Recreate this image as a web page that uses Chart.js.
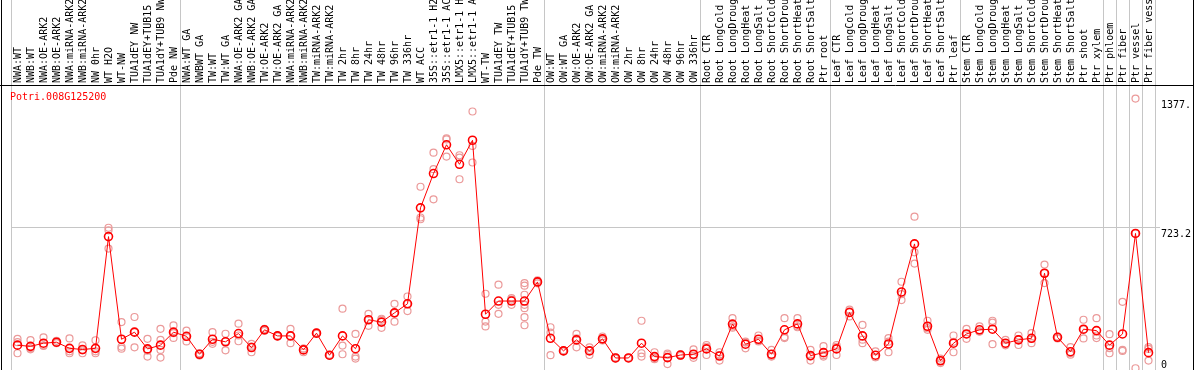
<!DOCTYPE html>
<html>
<head>
<meta charset="utf-8">
<script src="https://cdn.jsdelivr.net/npm/chart.js@4"></script>
<style>
    html, body { margin: 0; padding: 0; background: #fff; }
    #wrap { width: 1194px; height: 370px; }
</style>
</head>
<body>
<div id="wrap"><canvas id="expr-chart" width="1194" height="370"></canvas></div>
<script>
const geneName = "Potri.008G125200"

const sampleLabels = [
    "NWA:WT", "NWB:WT", "NWA:OE-ARK2", "NWB:OE-ARK2", "NWA:miRNA-ARK2", "NWB:miRNA-ARK2", "NW 0hr", "WT H2O", "WT-NW",
    "TUA1dEY NW", "TUA1dEY+TUB15 NW", "TUA1dY+TUB9 NW", "Pde NW",
    "NWA:WT GA", "NWBWT GA", "TW:WT", "TW:WT GA", "NWA:OE-ARK2 GA", "NWB:OE-ARK2 GA", "TW:OE-ARK2", "TW:OE-ARK2 GA",
    "NWA:miRNA-ARK2 GA", "NWB:miRNA-ARK2 GA", "TW:miRNA-ARK2", "TW:miRNA-ARK2 GA", "TW 2hr", "TW 8hr", "TW 24hr",
    "TW 48hr", "TW 96hr", "TW 336hr", "WT ACC", "35S::etr1-1 H2O", "35S::etr1-1 ACC", "LMX5::etr1-1 H2O",
    "LMX5::etr1-1 ACC", "WT-TW", "TUA1dEY TW", "TUA1dEY+TUB15 TW", "TUA1dY+TUB9 TW", "Pde TW",
    "OW:WT", "OW:WT GA", "OW:OE-ARK2", "OW:OE-ARK2 GA", "OW:miRNA-ARK2", "OW:miRNA-ARK2 GA", "OW 2hr", "OW 8hr",
    "OW 24hr", "OW 48hr", "OW 96hr", "OW 336hr",
    "Root CTR", "Root LongCold", "Root LongDrought", "Root LongHeat", "Root LongSalt", "Root ShortCold",
    "Root ShortDrought", "Root ShortHeat", "Root ShortSalt", "Ptr root",
    "Leaf CTR", "Leaf LongCold", "Leaf LongDrought", "Leaf LongHeat", "Leaf LongSalt", "Leaf ShortCold",
    "Leaf ShortDrought", "Leaf ShortHeat", "Leaf ShortSalt", "Ptr leaf",
    "Stem CTR", "Stem LongCold", "Stem LongDrought", "Stem LongHeat", "Stem LongSalt", "Stem ShortCold",
    "Stem ShortDrought", "Stem ShortHeat", "Stem ShortSalt", "Ptr shoot", "Ptr xylem",
    "Ptr phloem", "Ptr fiber", "Ptr vessel", "Ptr fiber vessel"
]

// index of the first sample of each block (last entry = end)
const groupStarts = [0, 13, 41, 53, 63, 73, 84, 85, 86, 87, 88]

const meanValues = [
    126, 120, 136, 141, 110, 104, 110, 677, 156, 192, 107, 126, 192,
    171, 80, 156, 143, 185, 114, 204, 173, 173, 102, 187, 75, 173, 108, 255, 243, 290, 336,
    823, 997, 1143, 1044, 1166, 283, 350, 350, 350, 447,
    161, 97, 153, 97, 158, 61, 61, 136, 68, 63, 76, 80,
    107, 71, 233, 131, 156, 80, 204, 234, 73, 88,
    107, 292, 173, 75, 132, 396, 640, 222, 47, 136,
    183, 204, 207, 136, 153, 161, 491, 166, 93, 207, 200,
    126, 183, 693, 88
]

const replicateValues = [
    [158, 85, 141], [152, 105, 110], [166, 122, 125], [148, 140, 136], [160, 95, 85], [125, 100, 85],
    [151, 85, 95], [722, 709, 616], [243, 108, 118], [269, 115, 192], [158, 104, 68, 98], [209, 153, 102, 63],
    [226, 163, 187],
    [200, 145, 168], [85, 73, 82], [192, 133, 143], [184, 100, 145], [235, 146, 175], [133, 90, 119],
    [209, 199, 204], [175, 170, 174], [209, 136, 174], [108, 90, 108], [190, 184, 187], [76, 72, 77],
    [311, 124, 80], [183, 68, 58], [285, 224, 256], [255, 214, 260], [336, 245, 289], [373, 299, 336],
    [930, 774, 765], [1103, 1019, 866], [1176, 1083, 1170], [1090, 968, 1078], [1312, 1137, 1053],
    [387, 246, 221], [433, 285, 331], [365, 331, 357], [441, 428, 382, 331, 314, 268, 227], [455, 440, 447],
    [217, 190, 75], [97, 95, 100], [183, 115, 161], [115, 76, 100], [170, 150, 155], [61, 58, 64],
    [61, 60, 63], [250, 85, 68], [90, 60, 55], [76, 30, 83], [76, 80, 72], [105, 73, 62],
    [127, 76, 118], [90, 48, 75], [263, 221, 215], [144, 110, 139], [175, 145, 148], [102, 68, 70],
    [263, 167, 162], [263, 217, 222], [102, 48, 69], [121, 68, 75],
    [127, 76, 118], [306, 298, 272], [229, 136, 154], [95, 65, 65], [162, 90, 144], [448, 355, 385],
    [778, 597, 540], [250, 212, 204], [48, 58, 35], [175, 90, 143],
    [209, 158, 182], [221, 195, 196], [250, 131, 240], [153, 125, 130], [175, 127, 157], [187, 136, 160],
    [535, 441, 491], [170, 160, 168], [116, 85, 78], [255, 160, 206], [263, 162, 175],
    [182, 85, 111], [346, 102, 97], [1377.4, 9, 693], [116, 107, 48]
]

const yTickValues = [0, 723.2, 1377.4]
const yTickLabels = ["0", "723.2", "1377."]
const yMax = 1446.4

const monoFont = { family: "'DejaVu Sans Mono', monospace", size: 10 }
const gridGray = '#c6c6c6'

function buildReplicateSets() {
    let most = Math.max(...replicateValues.map(r => r.length))
    let sets = []
    for (let k = 0; k < most; k++) {
        sets.push({
            data: replicateValues.map(r => r[k] === undefined ? null : r[k]),
            showLine: false,
            pointRadius: 3.5,
            pointBorderWidth: 1.2,
            pointBorderColor: '#eb9a9a',
            pointBackgroundColor: 'rgba(0,0,0,0)',
            order: 2
        })
    }
    return sets
}

const framePlugin = {
    id: 'frame',
    afterDraw(chart) {
        let ctx = chart.ctx
        let area = chart.chartArea
        ctx.save()
        ctx.strokeStyle = '#000'
        ctx.lineWidth = 1
        ctx.beginPath()
        ctx.moveTo(1.5, 0)
        ctx.lineTo(1.5, chart.height)
        ctx.moveTo(0, area.top + 0.5)
        ctx.lineTo(chart.width, area.top + 0.5)
        ctx.moveTo(chart.width - 0.5, 0)
        ctx.lineTo(chart.width - 0.5, chart.height)
        ctx.stroke()

        ctx.fillStyle = '#ff0000'
        ctx.font = "10px 'DejaVu Sans Mono'"
        ctx.textBaseline = 'middle'
        ctx.fillText(geneName, area.left - 1, area.top + 12)
        ctx.restore()
    }
}

new Chart(document.getElementById('expr-chart').getContext('2d'), {
    type: 'line',
    data: {
        labels: sampleLabels,
        datasets: [{
            data: meanValues,
            borderColor: '#ff0000',
            borderWidth: 1,
            pointRadius: 4,
            pointBorderWidth: 1.6,
            pointBorderColor: '#ff0000',
            pointBackgroundColor: 'rgba(0,0,0,0)',
            tension: 0,
            order: 1
        }].concat(buildReplicateSets())
    },
    options: {
        responsive: false,
        devicePixelRatio: 1,
        animation: false,
        events: [],
        layout: { autoPadding: false, padding: { left: 11, right: 0, top: 0, bottom: 0 } },
        plugins: { legend: { display: false }, tooltip: { enabled: false } },
        scales: {
            x: {
                type: 'category',
                position: 'top',
                offset: true,
                grid: {
                    offset: true,
                    lineWidth: 1,
                    drawTicks: true,
                    tickLength: 85,
                    color: (c) => (c.type === 'scale' || groupStarts.includes(c.index)) ? gridGray : 'rgba(0,0,0,0)'
                },
                border: { display: false },
                ticks: {
                    autoSkip: false,
                    minRotation: 90,
                    maxRotation: 90,
                    padding: -83,
                    labelOffset: 12.5,
                    color: '#000',
                    font: monoFont
                },
                afterFit: (s) => {
                    s.height = 85
                    s.paddingLeft = 0
                    s.paddingRight = 0
                }
            },
            y: {
                position: 'right',
                min: 0,
                max: yMax,
                afterBuildTicks: (s) => {
                    s.ticks = yTickValues.map(v => ({ value: v }))
                },
                afterFit: (s) => {
                    s.width = 39
                    s.paddingTop = 0
                    s.paddingBottom = 0
                },
                grid: {
                    drawTicks: true,
                    tickLength: 5,
                    color: (c) => c.index === 1 ? gridGray : 'rgba(0,0,0,0)'
                },
                border: { display: false },
                ticks: {
                    padding: 1,
                    labelOffset: 7,
                    color: '#000',
                    font: monoFont,
                    callback: (v, i) => i === 0 ? [yTickLabels[0], '', ''] : yTickLabels[i]
                }
            }
        }
    },
    plugins: [framePlugin]
})
</script>
</body>
</html>
